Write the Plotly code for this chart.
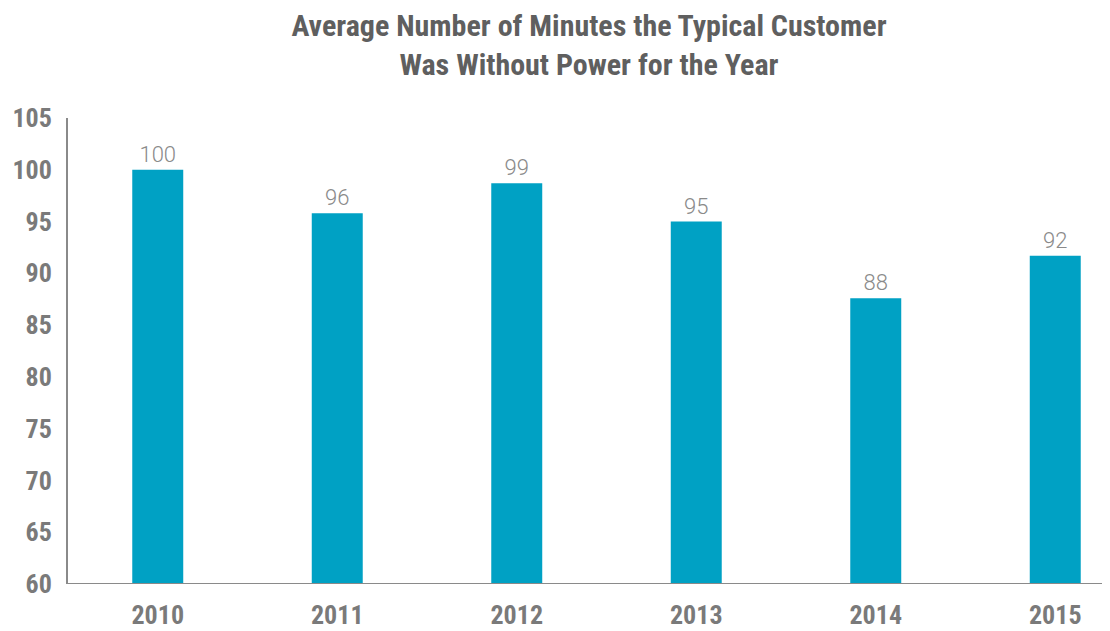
import plotly.graph_objects as go

years = ["2010", "2011", "2012", "2013", "2014", "2015"]
minutes = [100.0, 95.8, 98.7, 95.0, 87.6, 91.7]
labels = ["100", "96", "99", "95", "88", "92"]
y_ticks = [60, 65, 70, 75, 80, 85, 90, 95, 100, 105]

bar_color = "#00A1C4"
gray = "#7a7a7a"
cond = "Liberation Sans Narrow, Roboto Condensed, Arial Narrow, sans-serif"

# page body has an 8px default margin; size the figure to fit the 1110x631 window
W, H = 1102, 623

fig = go.Figure(go.Bar(
    x=list(range(len(years))), y=[m - 60 for m in minutes], base=60,
    marker=dict(color=bar_color, line=dict(width=0)),
    width=0.284,
    text=labels, textposition="outside", cliponaxis=False,
    textfont=dict(family="Roboto", size=22, color="#8a8a8a", weight=300),
))

fig.update_layout(
    width=W, height=H,
    margin=dict(l=60, r=0, t=110, b=47),
    paper_bgcolor="white", plot_bgcolor="white",
    showlegend=False,
    title=dict(
        text="Average Number of Minutes the Typical Customer<br>Was Without Power for the Year",
        x=0.5, xref="paper", xanchor="center",
        y=1 - 28 / H, yref="container", yanchor="middle",
        font=dict(family=cond, size=30, color="#5f5f5f", weight="bold"),
    ),
    xaxis=dict(
        range=[-0.5, 5.305], tickmode="array",
        tickvals=list(range(len(years))), ticktext=years,
        showgrid=False, zeroline=False, showline=False,
        ticks="", ticklabelstandoff=13,
        tickfont=dict(family=cond, size=26, color=gray, weight="bold"),
    ),
    yaxis=dict(
        range=[60, 105], tickmode="array", tickvals=y_ticks,
        showgrid=False, zeroline=False,
        showline=True, linecolor="#8a8a8a", linewidth=2,
        ticks="", ticklabelstandoff=9,
        tickfont=dict(family=cond, size=26, color=gray, weight="bold"),
    ),
    shapes=[dict(type="line", xref="paper", yref="y", x0=0, x1=1, y0=60, y1=60,
                 line=dict(color="#8a8a8a", width=2))],
)

fig.write_html("out.html")
